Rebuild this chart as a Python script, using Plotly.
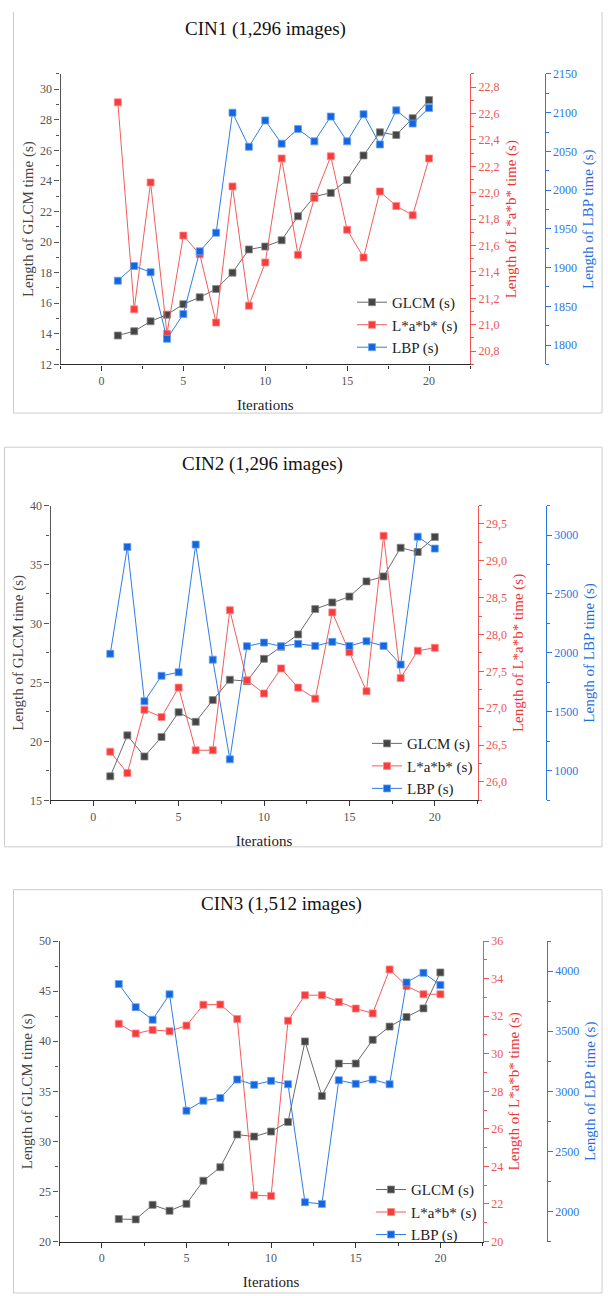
import plotly.graph_objects as go

W, H = 608, 1296

iterations = list(range(1, 21))
series_names = ["GLCM (s)", "L*a*b* (s)", "LBP (s)"]
panel_titles = ["CIN1 (1,296 images)", "CIN2 (1,296 images)", "CIN3 (1,512 images)"]

cin1_glcm = [13.89, 14.17, 14.82, 15.25, 15.94, 16.39, 16.93, 18.00, 19.52, 19.71,
             20.12, 21.69, 22.98, 23.22, 24.06, 25.67, 27.18, 27.01, 28.11, 29.29]
cin1_lab = [22.685, 21.117, 22.078, 20.932, 21.676, 21.535, 21.017, 22.048, 21.145, 21.472,
            22.26, 21.53, 21.96, 22.276, 21.72, 21.51, 22.01, 21.90, 21.83, 22.26]
cin1_lbp = [1883, 1902, 1894, 1808, 1840, 1921, 1945, 2100, 2056, 2090,
            2060, 2079, 2063, 2095, 2063, 2098, 2059, 2103, 2086, 2106]

cin2_glcm = [17.04, 20.51, 18.72, 20.37, 22.47, 21.66, 23.50, 25.23, 25.10, 27.00,
             28.03, 29.07, 31.22, 31.78, 32.28, 33.57, 33.99, 36.42, 36.06, 37.34]
cin2_lab = [26.41, 26.12, 26.98, 26.88, 27.28, 26.43, 26.43, 28.33, 27.38, 27.20,
            27.54, 27.28, 27.13, 28.30, 27.76, 27.23, 29.34, 27.41, 27.78, 27.82]
cin2_lbp = [1993, 2899, 1590, 1806, 1836, 2919, 1943, 1098, 2057, 2088,
            2057, 2077, 2060, 2094, 2060, 2099, 2060, 1901, 2986, 2885]

cin3_glcm = [22.24, 22.21, 23.66, 23.07, 23.76, 26.07, 27.42, 30.68, 30.48, 30.98,
             31.94, 39.98, 34.54, 37.77, 37.77, 40.14, 41.46, 42.42, 43.28, 46.87]
cin3_lab = [31.60, 31.08, 31.27, 31.20, 31.50, 32.61, 32.62, 31.85, 22.46, 22.43,
            31.76, 33.12, 33.12, 32.76, 32.41, 32.15, 34.49, 33.61, 33.17, 33.17]
cin3_lbp = [3893, 3700, 3596, 3807, 2839, 2922, 2944, 3098, 3054, 3087,
            3059, 2077, 2063, 3092, 3062, 3098, 3059, 3906, 3986, 3884]

# axis ranges / ticks per panel: (range, dtick, minor dtick, tickformat)
glcm_axes = [([12, 31], 2, 1, ""), ([15, 40], 5, 2.5, ""), ([20, 50], 5, 2.5, "")]
lab_axes = [([20.7, 22.9], 0.2, 0.1, ".1f"), ([25.75, 29.75], 0.5, 0.25, ".1f"), ([20, 36], 2, 1, "")]
lbp_axes = [([1775, 2150], 50, 25, ""), ([750, 3250], 500, 250, ""), ([1750, 4250], 500, 250, "")]
x_range = [-2.5, 22.5]

data = [(cin1_glcm, cin1_lab, cin1_lbp), (cin2_glcm, cin2_lab, cin2_lbp), (cin3_glcm, cin3_lab, cin3_lbp)]

# layout geometry in pixels (left, right, top, bottom, blue axis x)
geo = [
    (60.5, 470.0, 67.7, 361.3, 544.5),
    (50.5, 477.5, 504.0, 802.0, 545.7),
    (59.5, 482.7, 944.3, 1248.0, 546.7),
]
title_pos = [(265, 22), (262, 462), (281, 907)]
legend_pos = [(352, 282), (367, 728), (371, 1179)]
# frames: (x0, x1, top, bottom, draw_top)
frames = [(13.5, 602, 5, 410.5, False), (4.5, 602, 445, 849, True), (13.5, 602, 892.3, 1300, True)]

FONT = "Liberation Serif, Times New Roman, serif"
GRAY_C = dict(line="#6a6a6a", marker="#454545", edge="#8a8a8a")
RED_C = dict(line="#f25c5c", marker="#f73c3c", edge="#ff8a8a")
BLUE_C = dict(line="#2f7de3", marker="#1466e0", edge="#6aa3ee")
RED_AX = "#f05454"
BLUE_AX = "#2a78e4"

fig = go.Figure()
layout = dict(
    width=W, height=H,
    margin=dict(l=0, r=0, t=0, b=0),
    paper_bgcolor="white", plot_bgcolor="white",
    separators=",.",
    font=dict(family=FONT, size=12, color="#555555"),
    showlegend=True,
)

def px_x(v):
    return v / W

def px_y(v):
    return 1 - v / H

annotations = []
shapes = []

for i in range(3):
    l, r, t, b, bx = geo[i]
    xname = "x" if i == 0 else f"x{i + 1}"
    xkey = "xaxis" if i == 0 else f"xaxis{i + 1}"
    yn = [3 * i + 1, 3 * i + 2, 3 * i + 3]
    ynames = ["y" if n == 1 else f"y{n}" for n in yn]
    ykeys = ["yaxis" if n == 1 else f"yaxis{n}" for n in yn]
    legend_name = "legend" if i == 0 else f"legend{i + 1}"

    g, lab, lbp = data[i]
    styles = [GRAY_C, RED_C, BLUE_C]
    for j, (vals, st) in enumerate(zip((g, lab, lbp), styles)):
        fig.add_trace(go.Scatter(
            x=iterations, y=vals, mode="lines+markers", name=series_names[j],
            xaxis=xname, yaxis=ynames[j], legend=legend_name,
            line=dict(color=st["line"], width=1),
            marker=dict(symbol="square", size=7, color=st["marker"],
                        line=dict(color=st["edge"], width=0.8)),
        ))

    layout[xkey] = dict(
        domain=[px_x(l), px_x(r)], anchor=ynames[0], range=x_range,
        showgrid=False, zeroline=False, showline=True, linecolor="#2b2b2b", linewidth=1.3,
        ticks="outside", ticklen=5, tickwidth=1.2, tickcolor="#333333", dtick=5, tick0=0,
        minor=dict(ticks="outside", ticklen=3, dtick=2.5, tick0=0, tickcolor="#333333"),
        tickfont=dict(family=FONT, size=12, color="#555555"),
        title=dict(text="Iterations", font=dict(family=FONT, size=15, color="#222222"), standoff=12),
    )
    rg, dt, mdt, tf = glcm_axes[i]
    layout[ykeys[0]] = dict(
        domain=[px_y(b), px_y(t)], anchor=xname, range=rg,
        showgrid=False, zeroline=False, showline=True, linecolor="#555555", linewidth=1.3,
        ticks="outside", ticklen=5, tickwidth=1.2, tickcolor="#555555", dtick=dt, tick0=0,
        tickformat=tf,
        minor=dict(ticks="outside", ticklen=3, dtick=mdt, tick0=0, tickcolor="#555555"),
        tickfont=dict(family=FONT, size=12, color="#555555"),
        title=dict(text="Length of GLCM time (s)", font=dict(family=FONT, size=15, color="#444444"), standoff=2),
    )
    rg, dt, mdt, tf = lab_axes[i]
    layout[ykeys[1]] = dict(
        anchor=xname, overlaying=ynames[0], side="right", range=rg,
        showgrid=False, zeroline=False, showline=True, linecolor=RED_AX, linewidth=1.3,
        ticks="outside", ticklen=5, tickwidth=1.2, tickcolor=RED_AX, dtick=dt, tick0=0,
        tickformat=tf,
        minor=dict(ticks="outside", ticklen=3, dtick=mdt, tick0=0, tickcolor=RED_AX),
        tickfont=dict(family=FONT, size=12, color=RED_AX),
        title=dict(text="Length of L*a*b* time (s)", font=dict(family=FONT, size=15, color="#ee3535"), standoff=6),
    )
    rg, dt, mdt, tf = lbp_axes[i]
    layout[ykeys[2]] = dict(
        anchor="free", overlaying=ynames[0], side="right", position=px_x(bx), range=rg,
        showgrid=False, zeroline=False, showline=True, linecolor=BLUE_AX, linewidth=1.3,
        ticks="outside", ticklen=5, tickwidth=1.2, tickcolor=BLUE_AX, dtick=dt, tick0=0,
        tickformat=tf,
        minor=dict(ticks="outside", ticklen=3, dtick=mdt, tick0=0, tickcolor=BLUE_AX),
        tickfont=dict(family=FONT, size=12, color=BLUE_AX),
        title=dict(text="Length of LBP time (s)", font=dict(family=FONT, size=15, color="#1f6fe0"), standoff=6),
    )
    lx, ly = legend_pos[i]
    layout[legend_name] = dict(
        x=px_x(lx), y=px_y(ly), xanchor="left", yanchor="top",
        bgcolor="rgba(0,0,0,0)", borderwidth=0,
        font=dict(family=FONT, size=15, color="#222222"),
        itemwidth=30, tracegroupgap=0,
    )
    tx, ty = title_pos[i]
    annotations.append(dict(
        text=panel_titles[i], x=px_x(tx), y=px_y(ty), xref="paper", yref="paper",
        xanchor="center", yanchor="middle", showarrow=False,
        font=dict(family=FONT, size=19, color="#111111"),
    ))
    fx0, fx1, fy0, fy1, draw_top = frames[i]
    X0, X1, Y0, Y1 = px_x(fx0), px_x(fx1), px_y(fy0), px_y(fy1)
    if draw_top:
        path = f"M{X0},{Y0} L{X0},{Y1} L{X1},{Y1} L{X1},{Y0} Z"
    else:
        path = f"M{X0},{Y0} L{X0},{Y1} L{X1},{Y1} L{X1},{Y0}"
    shapes.append(dict(type="path", xref="paper", yref="paper", path=path,
                       line=dict(color="#cccccc", width=1), fillcolor="rgba(0,0,0,0)", layer="below"))

layout["annotations"] = annotations
layout["shapes"] = shapes
fig.update_layout(**layout)

fig.write_html(
    "out.html",
    config={"displayModeBar": False},
    post_script="document.body.style.margin='0px';document.body.style.overflow='hidden';",
)
